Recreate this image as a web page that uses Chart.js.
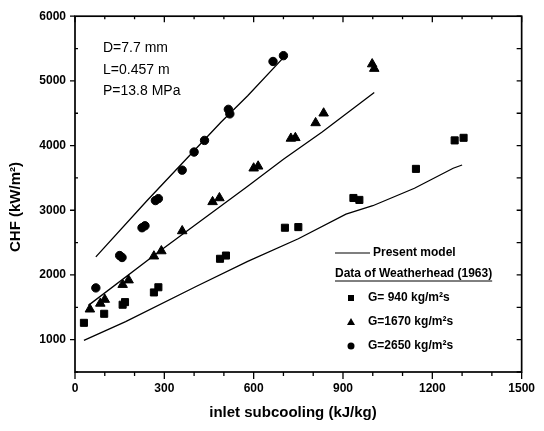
<!DOCTYPE html>
<html><head><meta charset="utf-8">
<script src="https://cdn.jsdelivr.net/npm/chart.js@4"></script>
<style>html,body{margin:0;padding:0;background:#fff}#wrap{width:544px;height:431px}</style>
</head><body><div id="wrap"><canvas id="c" width="544" height="431"></canvas></div>
<script>
// Data
const g940X = [30, 98, 160, 168, 265, 280, 487, 507, 705, 750, 935, 955, 1145, 1275, 1305];
const g940Y = [1260, 1400, 1540, 1580, 1730, 1810, 2250, 2300, 2730, 2740, 3190, 3160, 3640, 4080, 4120];
const g1670X = [50, 85, 100, 160, 180, 265, 290, 360, 462, 485, 600, 615, 725, 740, 808, 835, 998, 1005];
const g1670Y = [1470, 1560, 1620, 1850, 1920, 2290, 2370, 2680, 3130, 3190, 3650, 3680, 4110, 4120, 4350, 4500, 5260, 5190];
const g2650X = [70, 150, 158, 225, 235, 270, 280, 360, 400, 435, 515, 520, 665, 700];
const g2650Y = [1800, 2300, 2270, 2730, 2760, 3150, 3180, 3620, 3900, 4080, 4560, 4490, 5300, 5390];
const model2650X = [70, 240, 490, 580, 700];
const model2650Y = [2280, 3140, 4360, 4770, 5360];
const model1670X = [45, 285, 580, 700, 830, 1005];
const model1670Y = [1530, 2370, 3370, 3790, 4210, 4820];
const model940X = [30, 170, 410, 580, 750, 910, 1000, 1140, 1270, 1300];
const model940Y = [990, 1280, 1830, 2210, 2560, 2940, 3070, 3340, 3650, 3700];

const xMin = 0, xMax = 1500, xStep = 100, xLabelStep = 300;
const yMin = 500, yMax = 6000, yStep = 500, yLabelStep = 1000;
const xTitle = 'inlet subcooling (kJ/kg)';
const yTitle = 'CHF (kW/m\u00B2)';
const notes = ['D=7.7 mm', 'L=0.457 m', 'P=13.8 MPa'];
const legendModel = 'Present model';
const legendHeader = 'Data of Weatherhead (1963)';
const legendSeries = ['G= 940 kg/m\u00B2s', 'G=1670 kg/m\u00B2s', 'G=2650 kg/m\u00B2s'];

const pts = (xs, ys) => xs.map((x, i) => ({x, y: ys[i]}));
const FONT = '"Liberation Sans", Arial, sans-serif';

const lineDs = (xs, ys) => ({type: 'line', data: pts(xs, ys), showLine: true, borderColor: '#000',
  borderWidth: 1.3, pointRadius: 0, fill: false, tension: 0});
const markDs = (xs, ys, style, r) => ({type: 'scatter', data: pts(xs, ys), pointStyle: style,
  pointRadius: r, backgroundColor: '#000', borderColor: '#000', borderWidth: 1, showLine: false});

const decor = {
  id: 'decor',
  afterDraw(chart) {
    const ctx = chart.ctx, a = chart.chartArea, xs = chart.scales.x, ys = chart.scales.y;
    ctx.save();
    ctx.strokeStyle = '#000'; ctx.fillStyle = '#000';
    ctx.lineWidth = 1.7;
    ctx.strokeRect(a.left, a.top, a.right - a.left, a.bottom - a.top);
    ctx.lineWidth = 1.3;
    ctx.beginPath();
    for (let v = xMin; v <= xMax; v += xStep) {
      const px = xs.getPixelForValue(v);
      const major = v % xLabelStep === 0;
      ctx.moveTo(px, a.bottom); ctx.lineTo(px, a.bottom + (major ? 7 : 4));
      ctx.moveTo(px, a.top); ctx.lineTo(px, a.top + (major ? 6 : 3));
    }
    for (let v = yMin; v <= yMax; v += yStep) {
      const py = ys.getPixelForValue(v);
      const major = v % yLabelStep === 0;
      if (major) { ctx.moveTo(a.left, py); ctx.lineTo(a.left - 5, py); }
      else { ctx.moveTo(a.left, py); ctx.lineTo(a.left + 3, py); }
      ctx.moveTo(a.right, py); ctx.lineTo(a.right - 5, py);
    }
    ctx.stroke();
    ctx.font = 'bold 15px ' + FONT;
    ctx.textAlign = 'center'; ctx.textBaseline = 'middle';
    ctx.fillText(xTitle, 293, 413);
    ctx.save(); ctx.translate(16, 207); ctx.rotate(-Math.PI / 2);
    ctx.fillText(yTitle, 0, 0); ctx.restore();
    ctx.font = '14px ' + FONT; ctx.textAlign = 'left';
    [48, 70, 91].forEach((y, i) => ctx.fillText(notes[i], 103, y));
    ctx.lineWidth = 1.2;
    ctx.beginPath(); ctx.moveTo(335, 253); ctx.lineTo(370, 253); ctx.stroke();
    ctx.font = 'bold 12px ' + FONT;
    ctx.fillText(legendModel, 373, 253);
    ctx.fillText(legendHeader, 335, 274);
    const w = ctx.measureText(legendHeader).width;
    ctx.lineWidth = 1;
    ctx.beginPath(); ctx.moveTo(335, 281); ctx.lineTo(335 + w, 281); ctx.stroke();
    const mx = 351;
    ctx.fillRect(mx - 3, 298 - 3, 6, 6);
    ctx.beginPath(); ctx.moveTo(mx, 318); ctx.lineTo(mx + 4, 325); ctx.lineTo(mx - 4, 325); ctx.closePath(); ctx.fill();
    ctx.beginPath(); ctx.arc(mx, 346, 3.5, 0, Math.PI * 2); ctx.fill();
    [298, 322, 346].forEach((y, i) => ctx.fillText(legendSeries[i], 368, y));
    ctx.restore();
  }
};

new Chart(document.getElementById('c'), {
  type: 'scatter',
  data: {datasets: [
    lineDs(model940X, model940Y),
    lineDs(model1670X, model1670Y),
    lineDs(model2650X, model2650Y),
    markDs(g940X, g940Y, 'rect', 5),
    markDs(g1670X, g1670Y, 'triangle', 5.5),
    markDs(g2650X, g2650Y, 'circle', 4.2)
  ]},
  options: {
    responsive: false, animation: false, devicePixelRatio: 1,
    layout: {padding: {left: 0, right: 13, top: 13, bottom: 0}},
    plugins: {legend: {display: false}, tooltip: {enabled: false}},
    scales: {
      x: {type: 'linear', min: xMin, max: xMax,
        afterFit: s => { s.height = 59; },
        grid: {display: false, drawTicks: false}, border: {display: false},
        ticks: {stepSize: xStep, autoSkip: false, maxRotation: 0, padding: 9, color: '#000',
          font: {family: FONT, size: 12, weight: 'bold'},
          callback: v => (v % xLabelStep === 0 ? String(v) : '')}},
      y: {type: 'linear', min: yMin, max: yMax,
        afterFit: s => { s.width = 75; },
        grid: {display: false, drawTicks: false}, border: {display: false},
        ticks: {stepSize: yStep, autoSkip: false, padding: 9, color: '#000',
          font: {family: FONT, size: 12, weight: 'bold'},
          callback: v => (v % yLabelStep === 0 ? String(v) : '')}}
    }
  },
  plugins: [decor]
});
</script></body></html>
